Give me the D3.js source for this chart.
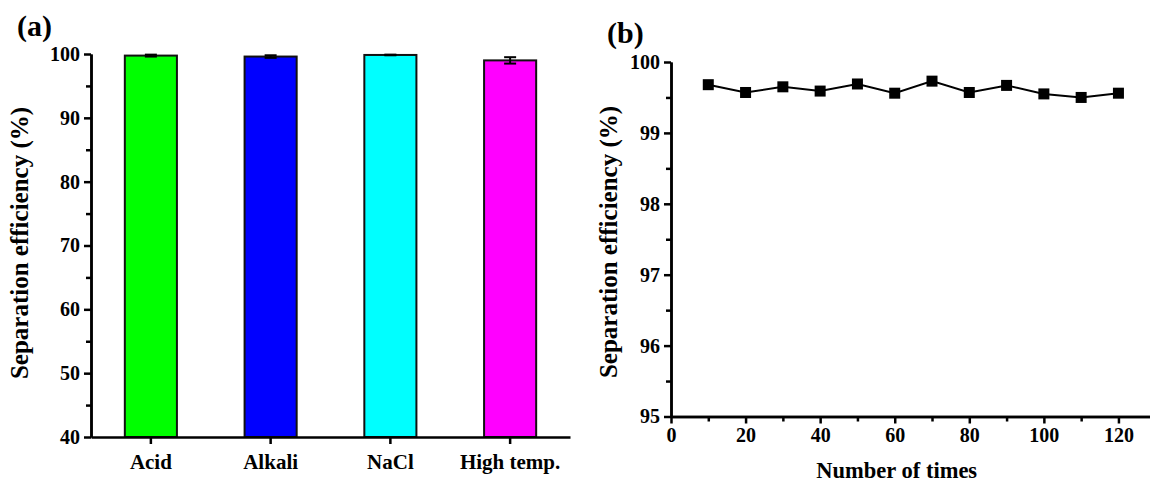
<!DOCTYPE html>
<html>
<head>
<meta charset="utf-8">
<script src="https://cdn.jsdelivr.net/npm/d3@7"></script>
<style>
  body { margin: 0; background: #fff; }
  svg { font-family: "Liberation Serif", "Times New Roman", serif; font-weight: bold; }
  .axis path, .axis line { stroke: #000; stroke-width: 2.5; }
  .axis text { font-family: "Liberation Serif", serif; font-weight: bold; font-size: 20px; fill: #000; }
</style>
</head>
<body>
<div id="chart"></div>
<script>
// panel (a)
var conditions = ["Acid", "Alkali", "NaCl", "High temp."];
var efficiency = [99.75, 99.6, 99.85, 99.0];
var errors = [0.15, 0.2, 0.05, 0.5];
var barColors = ["#00ff00", "#0000ff", "#00ffff", "#ff00ff"];
var yTicksA = [40, 50, 60, 70, 80, 90, 100];

// panel (b)
var times = [10, 20, 30, 40, 50, 60, 70, 80, 90, 100, 110, 120];
var cycleEff = [99.68, 99.57, 99.65, 99.59, 99.69, 99.56, 99.73, 99.57, 99.67, 99.55, 99.50, 99.56];
var xTicksB = [0, 20, 40, 60, 80, 100, 120];
var yTicksB = [95, 96, 97, 98, 99, 100];

var svg = d3.select("#chart").append("svg")
  .attr("width", 1150)
  .attr("height", 485);

// ---- (a) bars ----
var xA = d3.scaleBand().domain(conditions).range([91, 570]).paddingInner(0.565).paddingOuter(0.2825);
var yA = d3.scaleLinear().domain([40, 100]).range([437, 54]);

var gA = svg.append("g");

gA.selectAll("rect.bar")
  .data(conditions)
  .enter().append("rect")
  .attr("class", "bar")
  .attr("x", function(d) { return xA(d); })
  .attr("y", function(d, i) { return yA(efficiency[i]); })
  .attr("width", xA.bandwidth())
  .attr("height", function(d, i) { return yA(40) - yA(efficiency[i]); })
  .attr("fill", function(d, i) { return barColors[i]; })
  .attr("stroke", "#111")
  .attr("stroke-width", 2);

// error bars
var eb = gA.selectAll("g.err").data(conditions).enter().append("g").attr("class", "err");
eb.append("line")
  .attr("x1", function(d) { return xA(d) + xA.bandwidth() / 2; })
  .attr("x2", function(d) { return xA(d) + xA.bandwidth() / 2; })
  .attr("y1", function(d, i) { return yA(efficiency[i] + errors[i]); })
  .attr("y2", function(d, i) { return yA(efficiency[i] - errors[i]); })
  .attr("stroke", "#000").attr("stroke-width", 2);
eb.each(function(d, i) {
  var cx = xA(d) + xA.bandwidth() / 2;
  [efficiency[i] + errors[i], efficiency[i] - errors[i]].forEach(function(v) {
    d3.select(this).append("line")
      .attr("x1", cx - 6).attr("x2", cx + 6)
      .attr("y1", yA(v)).attr("y2", yA(v))
      .attr("stroke", "#000").attr("stroke-width", 2);
  }, this);
});

gA.append("g").attr("class", "axis")
  .attr("transform", "translate(91,0)")
  .call(d3.axisLeft(yA).tickValues(d3.range(45, 100, 10)).tickSize(5).tickSizeOuter(0).tickFormat(""));
gA.append("g").attr("class", "axis")
  .attr("transform", "translate(91,0)")
  .call(d3.axisLeft(yA).tickValues(yTicksA).tickSize(7).tickSizeOuter(0).tickPadding(4).tickFormat(d3.format("d")));

var xAxisA = gA.append("g").attr("class", "axis")
  .attr("transform", "translate(0,437)")
  .call(d3.axisBottom(xA).tickSize(7).tickSizeOuter(0).tickPadding(10));
xAxisA.selectAll("text").style("font-size", "21px");

gA.append("text")
  .attr("transform", "translate(28,243) rotate(-90)")
  .attr("text-anchor", "middle")
  .style("font-size", "25px")
  .text("Separation efficiency (%)");

svg.append("text")
  .attr("x", 17).attr("y", 36)
  .style("font-size", "30px")
  .text("(a)");

// ---- (b) line + squares ----
var xB = d3.scaleLinear().domain([0, 129]).range([671, 1152]);
var yB = d3.scaleLinear().domain([95, 100]).range([416.5, 62]);

var gB = svg.append("g");

gB.append("g").attr("class", "axis")
  .attr("transform", "translate(671,0)")
  .call(d3.axisLeft(yB).tickValues(d3.range(95.5, 100, 1)).tickSize(5).tickSizeOuter(0).tickFormat(""));
gB.append("g").attr("class", "axis")
  .attr("transform", "translate(671,0)")
  .call(d3.axisLeft(yB).tickValues(yTicksB).tickSize(7).tickSizeOuter(0).tickPadding(4).tickFormat(d3.format("d")));

gB.append("g").attr("class", "axis")
  .attr("transform", "translate(0,416.5)")
  .call(d3.axisBottom(xB).tickValues(d3.range(10, 130, 20)).tickSize(5).tickSizeOuter(0).tickFormat(""));
gB.append("g").attr("class", "axis")
  .attr("transform", "translate(0,416.5)")
  .call(d3.axisBottom(xB).tickValues(xTicksB).tickSize(7).tickSizeOuter(0).tickPadding(4).tickFormat(d3.format("d")));

var line = d3.line()
  .x(function(d, i) { return xB(times[i]); })
  .y(function(d) { return yB(d); });

gB.append("path")
  .datum(cycleEff)
  .attr("d", line)
  .attr("fill", "none")
  .attr("stroke", "#000")
  .attr("stroke-width", 2);

gB.selectAll("rect.pt")
  .data(cycleEff)
  .enter().append("rect")
  .attr("class", "pt")
  .attr("x", function(d, i) { return xB(times[i]) - 5.5; })
  .attr("y", function(d) { return yB(d) - 5.5; })
  .attr("width", 11)
  .attr("height", 11)
  .attr("fill", "#000");

gB.append("text")
  .attr("x", xB(60) + 2).attr("y", 478)
  .attr("text-anchor", "middle")
  .style("font-size", "22.5px")
  .text("Number of times");

gB.append("text")
  .attr("transform", "translate(617,242) rotate(-90)")
  .attr("text-anchor", "middle")
  .style("font-size", "25px")
  .text("Separation efficiency (%)");

svg.append("text")
  .attr("x", 607).attr("y", 43)
  .style("font-size", "30px")
  .text("(b)");
</script>
</body>
</html>
